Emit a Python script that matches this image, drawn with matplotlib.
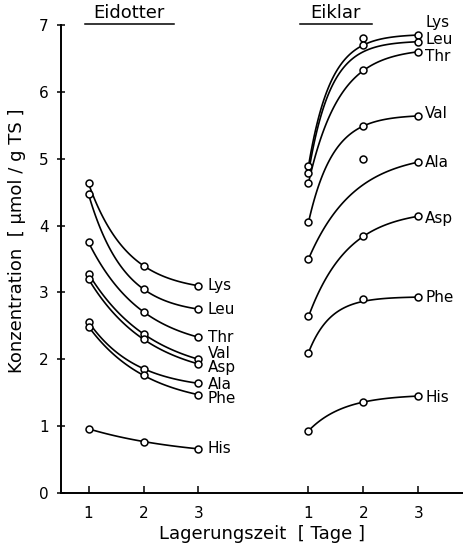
import numpy as np
import matplotlib
matplotlib.use("Agg")
import matplotlib.pyplot as plt
from matplotlib.lines import Line2D

# amino acids, storage days
amino = ["Lys", "Leu", "Thr", "Val", "Asp", "Ala", "Phe", "His"]
days = [1, 2, 3]

# Eidotter (yolk), umol / g TS
eidotter = [
    [4.63, 3.40, 3.10],
    [4.47, 3.05, 2.75],
    [3.75, 2.71, 2.33],
    [3.28, 2.38, 2.00],
    [3.20, 2.30, 1.93],
    [2.56, 1.86, 1.64],
    [2.49, 1.76, 1.47],
    [0.96, 0.77, 0.66],
]

# Eiklar (white), umol / g TS
eiklar = [
    [4.89, 6.80, 6.85],
    [4.79, 6.70, 6.75],
    [4.64, 6.32, 6.60],
    [4.05, 5.49, 5.64],
    [3.50, 5.00, 4.95],
    [2.64, 3.84, 4.14],
    [2.10, 2.90, 2.93],
    [0.93, 1.36, 1.45],
]

# label order on the right side differs (Ala above Asp)
eiklar_names = ["Lys", "Leu", "Thr", "Val", "Ala", "Asp", "Phe", "His"]

# where the names sit (layout only)
left_label_y = [3.10, 2.74, 2.32, 2.08, 1.87, 1.63, 1.41, 0.67]
right_label_y = [7.03, 6.79, 6.53, 5.67, 4.94, 4.10, 2.93, 1.43]


def smooth_curve(y, n=80):
    # y = a + b*exp(-k t) through the first and last value,
    # k taken from the three values when they allow it (capped)
    y1, y2, y3 = y
    r = (y3 - y2) / (y2 - y1)
    k = min(-np.log(r), 2.5) if 0 < r < 0.95 else 1.2
    b = (y3 - y1) / (np.exp(-2 * k) - 1)
    a = y1 - b
    t = np.linspace(0, 2, n)
    return t, a + b * np.exp(-k * t)


W, H = 463, 545
fig = plt.figure(figsize=(W / 100, H / 100), dpi=100)
ax = fig.add_axes([61 / W, (H - 493) / H, (W - 61) / W, 468 / H])

fs = 11
lw = 1.2

for offset, data in [(0, eidotter), (4, eiklar)]:
    for vals in data:
        t, yc = smooth_curve(vals)
        ax.plot(t + 1 + offset, yc, color="black", lw=lw, zorder=2)
        ax.plot(np.array(days) + offset, vals, "o", ms=5, mfc="white",
                mec="black", mew=1.1, zorder=3)

for name, yl in zip(amino, left_label_y):
    ax.text(3.17, yl, name, fontsize=fs, va="center", ha="left")
for name, yl in zip(eiklar_names, right_label_y):
    ax.text(7.12, yl, name, fontsize=fs, va="center", ha="left")

ax.set_xlim(0.5, 0.5 + (W - 61) / 55)
ax.set_ylim(0, 7)
ax.set_yticks(range(0, 8))
ax.set_xticks([1, 2, 3, 5, 6, 7])
ax.set_xticklabels(["1", "2", "3", "1", "2", "3"])
ax.tick_params(axis="both", labelsize=fs, width=1.1, color="black")
ax.tick_params(axis="x", direction="in", length=5, pad=9)
ax.tick_params(axis="y", direction="inout", length=6, pad=6)
ax.spines["top"].set_visible(False)
ax.spines["right"].set_visible(False)
ax.spines["left"].set_linewidth(1.4)
ax.spines["bottom"].set_linewidth(1.4)
ax.spines["bottom"].set_clip_on(False)

fig.text(262 / W, 1 - 534 / H, "Lagerungszeit  [ Tage ]", fontsize=13,
         ha="center", va="center")
fig.text(17 / W, 1 - 241 / H, "Konzentration  [ µmol / g TS ]", fontsize=13,
         ha="center", va="center", rotation=90)

# underlined group titles
for label, cx, x0, x1 in [("Eidotter", 129, 85, 174), ("Eiklar", 336, 300, 372)]:
    fig.text(cx / W, 1 - 13 / H, label, fontsize=13, ha="center", va="center")
    fig.add_artist(Line2D([x0 / W, x1 / W], [1 - 24 / H, 1 - 24 / H],
                          color="black", lw=1.1, transform=fig.transFigure))

fig.savefig("out.png", dpi=100)
